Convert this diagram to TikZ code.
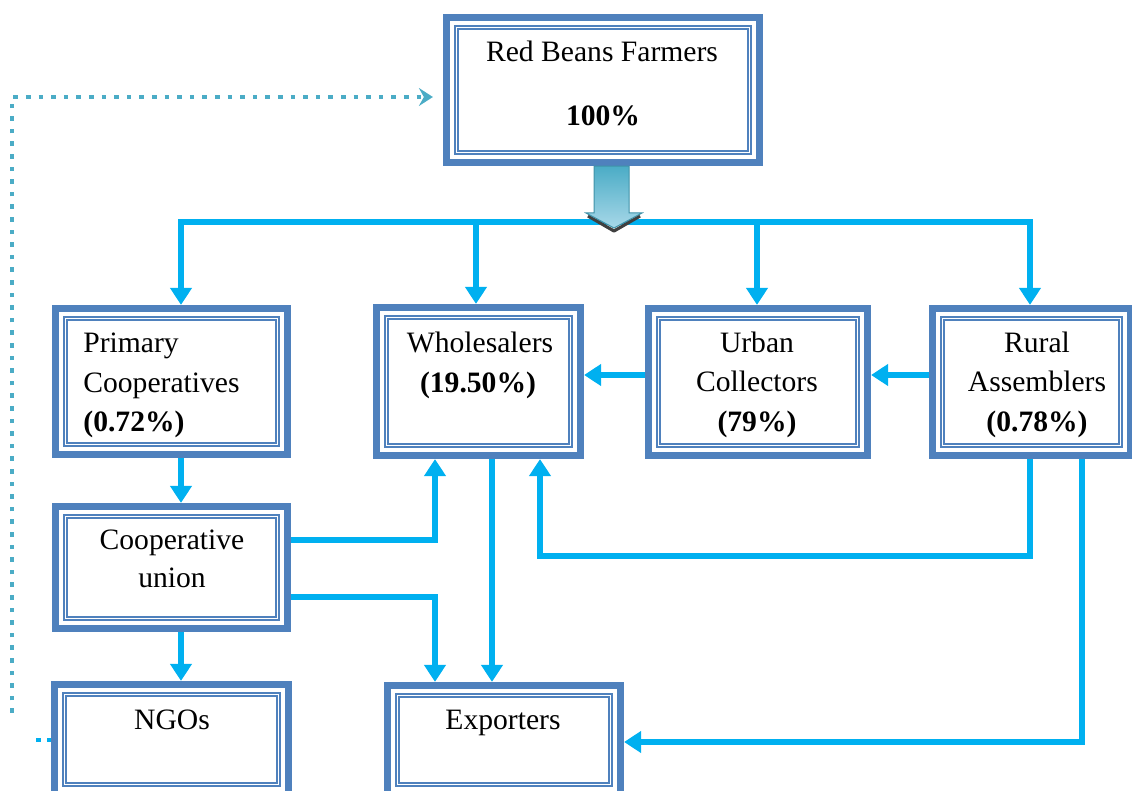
\documentclass[tikz,border=0pt]{standalone}
\usepackage{fontspec}
\setmainfont{Liberation Serif}
\usetikzlibrary{arrows.meta,fit,calc}
\definecolor{boxblue}{HTML}{4F81BD}
\definecolor{conncyan}{HTML}{00B0F0}
\definecolor{dotteal}{HTML}{4BACC6}
\definecolor{arrtop}{HTML}{4BACC6}
\definecolor{arrbot}{HTML}{A8D8E8}
\newcommand\dblbox[5]{%
  \node[bx, fit={(#2+3.5,#3+3.5) (#4-3.5,#5-3.5)}] (#1) {};
  \draw[inr] (#2+13.5,#3+13.5) rectangle (#4-13.5,#5-13.5);
}
\begin{document}
\begin{tikzpicture}[x=0.5pt,y=-0.5pt,
  bx/.style={draw=boxblue, line width=3.6pt, inner sep=0pt, fill=white},
  inr/.style={draw=boxblue, line width=0.7pt, double=white, double distance=0.9pt},
  txt/.style={anchor=base, inner sep=0pt, font=\fontsize{14.8}{18}\selectfont},
  btxt/.style={txt, font=\fontsize{14.8}{18}\selectfont\bfseries},
  ltxt/.style={txt, anchor=base west},
  conn/.style={draw=conncyan, line width=2.9pt},
  arr/.style={conn, -{Triangle[width=10.5pt,length=8.5pt]}},
  dotc/.style={draw=dotteal, line width=2.3pt, dash pattern=on 2.3pt off 4pt},
]
\clip (0,0) rectangle (1132,791);

% boxes
\dblbox{farm}{443}{14}{763}{166}
\dblbox{prim}{52}{305}{291}{458}
\dblbox{union}{52}{503}{291}{632}
\dblbox{ngo}{51}{681}{292}{798}
\dblbox{whole}{373}{304}{584}{459}
\dblbox{urban}{645}{305}{871}{459}
\dblbox{rural}{929}{305}{1134}{459}
\dblbox{exp}{384}{682}{624}{798}

% texts
\node[txt] (tfarm) at (602,62) {Red Beans Farmers};
\node[btxt] (tfarmp) at (603,126) {100\%};
\node[ltxt] (tprim1) at (83,353) {Primary};
\node[ltxt] (tprim2) at (83,393) {Cooperatives};
\node[ltxt, font=\fontsize{14.8}{18}\selectfont\bfseries] (tprim3) at (83,432) {(0.72\%)};
\node[txt] (tunion1) at (172,550) {Cooperative};
\node[txt] (tunion2) at (172,588) {union};
\node[txt] (twhole1) at (480,353) {Wholesalers};
\node[btxt] (twhole2) at (478,393) {(19.50\%)};
\node[txt] (turban1) at (757,353) {Urban};
\node[txt] (turban2) at (757,392) {Collectors};
\node[btxt] (turban3) at (757,432) {(79\%)};
\node[txt] (trural1) at (1037,353) {Rural};
\node[txt] (trural2) at (1037,392) {Assemblers};
\node[btxt] (trural3) at (1037,432) {(0.78\%)};
\node[txt] (tngo) at (172,730) {NGOs};
\node[txt] (texp) at (503,730) {Exporters};

% distribution bus
\coordinate (busL) at (181,222);
\coordinate (busR) at (1030,222);
\draw[conn, line cap=rect] (busL) -- (busR);
\draw[arr] (busL) -- (busL |- prim.north);
\draw[arr] (476,222) -- (whole.north -| 476,0);
\draw[arr] (757,222) -- (urban.north -| 757,0);
\draw[arr] (busR) -- (busR |- rural.north);

% block arrow from farmers
\draw[black!75, line width=1.6pt, line join=round] (588,216) -- (614,231) -- (640,216);
\shade[top color=arrtop, bottom color=arrbot, draw=arrtop!85!black, line width=0.5pt]
  (farm.south -| 594,0) -- (farm.south -| 629,0) -- (629,213) -- (642,213) -- (614,228)
  -- (586,213) -- (594,213) -- cycle;

% horizontal links
\draw[arr] (urban.west |- 0,375) -- (whole.east |- 0,375);
\draw[arr] (rural.west |- 0,375) -- (urban.east |- 0,375);

% vertical chain on the left
\draw[arr] (prim.south -| 181,0) -- (union.north -| 181,0);
\draw[arr] (union.south -| 181,0) -- (ngo.north -| 181,0);

% union links
\draw[arr] (union.east |- 0,540) -| (whole.south -| 435,0);
\draw[arr] (union.east |- 0,597) -| (exp.north -| 435,0);

% wholesalers to exporters
\draw[arr] (whole.south -| 492,0) -- (exp.north -| 492,0);

% rural links
\draw[arr] (rural.south -| 1030,0) |- (540,556) -- (whole.south -| 540,0);
\draw[arr] (rural.south -| 1082,0) |- (exp.east |- 0,742);

% dotted feedback line
\coordinate (dotstart) at (12,713);
\draw[dotc, -{Stealth[length=7pt,width=9pt,inset=2.5pt]}] (dotstart) |- ([xshift=-5pt]farm.west |- 0,97);
\coordinate (ngodot) at (36,740);
\draw[draw=conncyan, line width=2.3pt, dash pattern=on 2.3pt off 3.3pt] (ngodot) -- (ngo.west |- 0,740);
\end{tikzpicture}
\end{document}
